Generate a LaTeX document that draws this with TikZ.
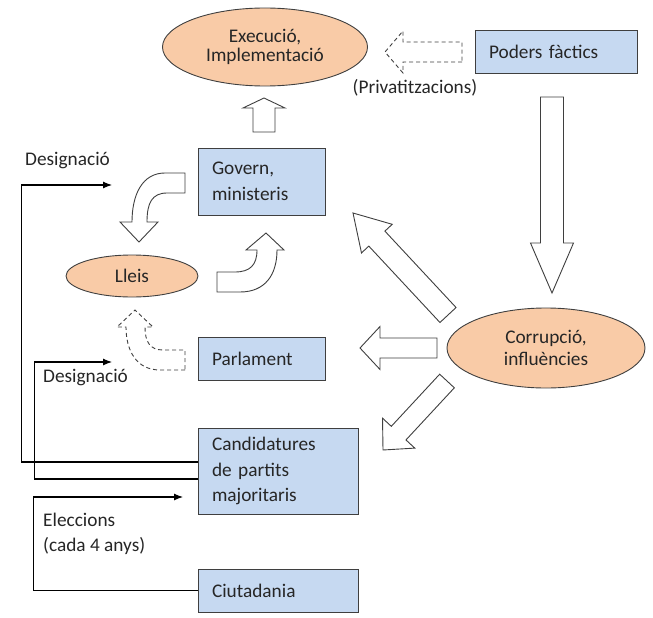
\documentclass[tikz,border=0pt]{standalone}
\usepackage{fontspec}
\setmainfont{Carlito}
\usetikzlibrary{calc,shapes.geometric,arrows.meta}
\definecolor{boxfill}{HTML}{C6D9F1}
\definecolor{ellfill}{HTML}{F9CBA7}
\definecolor{edge}{HTML}{3F3F3F}
\definecolor{txt}{HTML}{262626}
% #1 options, #2 tail, #3 tip, #4 body half width, #5 head half width, #6 head length
\newcommand\myblockarrow[6][]{%
  \coordinate (ba-h) at ($(#3)!#6!(#2)$);
  \draw[blk,#1] ($(#2)!#4!90:(#3)$) -- ($(ba-h)!#4!90:(#3)$) -- ($(ba-h)!#5!90:(#3)$)
    -- (#3) -- ($(ba-h)!#5!-90:(#3)$) -- ($(ba-h)!#4!-90:(#3)$) -- ($(#2)!#4!-90:(#3)$) -- cycle;
}
\begin{document}
\begin{tikzpicture}[x=1pt,y=-1pt,
  box/.style={draw=edge, fill=boxfill, line width=0.9pt, rectangle, inner sep=0pt, align=left,
    font=\fontsize{19.3}{25.5}\selectfont, text=txt},
  ell/.style={draw=edge, fill=ellfill, line width=0.9pt, ellipse, inner sep=0pt, align=center, text=txt},
  lbl/.style={inner sep=0pt, align=left, font=\fontsize{19.3}{25}\selectfont, text=txt},
  blk/.style={draw=edge, fill=white, line width=0.9pt, line join=miter},
  dsh/.style={dash pattern=on 4pt off 3pt},
  conn/.style={draw=black, line width=1.1pt, -{Latex[length=9pt,width=7pt]}}]
\useasboundingbox (0,0) rectangle (653,618);

% ellipses
\node[ell, minimum width=205pt, minimum height=78pt, font=\fontsize{19.3}{19.5}\selectfont] (exec) at (265,47) {Execució,\\Implementació};
\node[ell, minimum width=132pt, minimum height=42pt, font=\fontsize{19.3}{20}\selectfont] (lleis) at (132,276) {Lleis};
\node[ell, minimum width=198pt, minimum height=80pt, font=\fontsize{19.3}{21.5}\selectfont] (corr) at (546,348) {Corrupció,\\influències};

% boxes
\node[box, minimum width=162pt, minimum height=43pt, text width=134pt] (poders) at (556,51.5) {Poders fàctics};
\node[box, minimum width=127pt, minimum height=67pt, text width=99pt] (gov) at (261.5,181.5) {Govern,\\ministeris};
\node[box, minimum width=127pt, minimum height=43pt, text width=99pt] (parl) at (261.5,358.5) {Parlament};
\node[box, minimum width=160pt, minimum height=86pt, text width=132pt] (cand) at (278,471) {Candidatures\\de partits\\majoritaris};
\node[box, minimum width=160pt, minimum height=43pt, text width=132pt] (ciut) at (278,590.5) {Ciutadania};

% labels
\node[lbl] (priv) at (415,88) {(Privatitzacions)};
\node[lbl, anchor=west] (desig1) at (25,161) {Designació};
\node[lbl, anchor=west] (desig2) at (43,378) {Designació};
\node[lbl, anchor=north west] (elec) at (43,513) {Eleccions\\(cada 4 anys)};

% connectors
\coordinate (d1) at (112,185);
\coordinate (d2) at (112,362);
\coordinate (d3) at (183,497);
\draw[conn] ([yshift=9pt]cand.west) -- ++(-176,0) |- (d1);
\draw[conn] ([yshift=-8pt]cand.west) -- ++(-163,0) |- (d2);
\draw[conn] (ciut.west) -- ++(-164,0) |- (d3);

% straight block arrows
\coordinate (a1t) at (264,132); \coordinate (a1h) at (264,98);
\myblockarrow{a1t}{a1h}{11pt}{21pt}{10pt}
\coordinate (a2t) at (462,52); \coordinate (a2h) at (385,52);
\myblockarrow[dsh]{a2t}{a2h}{10pt}{21pt}{18pt}
\coordinate (a3t) at (552,97); \coordinate (a3h) at (552,293);
\myblockarrow{a3t}{a3h}{11.5pt}{21.5pt}{50pt}
\coordinate (a4t) at (448,315); \coordinate (a4h) at (353,213);
\myblockarrow{a4t}{a4h}{11pt}{21pt}{35pt}
\coordinate (a5t) at (437,348); \coordinate (a5h) at (360,348);
\myblockarrow{a5t}{a5h}{10pt}{21.5pt}{20pt}
\coordinate (a6t) at (447,381); \coordinate (a6h) at (383,450);
\myblockarrow{a6t}{a6h}{10pt}{22pt}{23pt}

% bent block arrows
\draw[blk] (185,173) -- (165,173) .. controls (142,173) and (132,195) .. (132,222)
  -- (120,222) -- (139,242) -- (158,222) -- (147,222)
  .. controls (147,203) and (152,193) .. (167,193) -- (185,193) -- cycle;
\draw[blk] (217,292) -- (240,292) .. controls (265,292) and (277,275) .. (277,250)
  -- (284,250) -- (266,233) -- (246,250) -- (257,250)
  .. controls (257,265) and (250,272) .. (235,272) -- (217,272) -- cycle;
\draw[blk,dsh] (185,370) -- (160,370) .. controls (136,370) and (126,350) .. (126,327)
  -- (117,327) -- (135,310) -- (153,327) -- (145,327)
  .. controls (145,342) and (150,350) .. (163,350) -- (185,350) -- cycle;
\end{tikzpicture}
\end{document}
